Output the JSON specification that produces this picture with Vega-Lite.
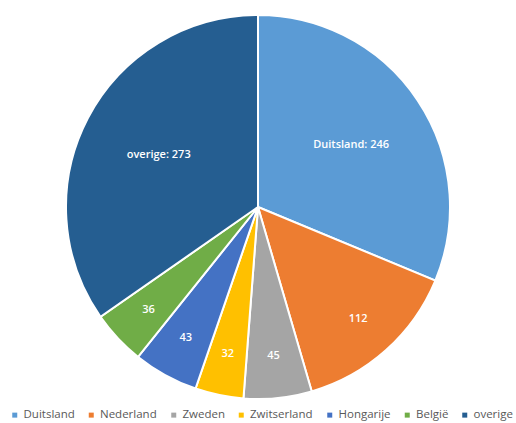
{
  "$schema": "https://vega.github.io/schema/vega-lite/v6.json",
  "width": 516,
  "height": 414,
  "padding": 0,
  "background": "white",
  "data": {"values": [
    {"land": "Duitsland", "aantal": 246, "volg": 1},
    {"land": "Nederland", "aantal": 112, "volg": 2},
    {"land": "Zweden", "aantal": 45, "volg": 3},
    {"land": "Zwitserland", "aantal": 32, "volg": 4},
    {"land": "Hongarije", "aantal": 43, "volg": 5},
    {"land": "België", "aantal": 36, "volg": 6},
    {"land": "overige", "aantal": 273, "volg": 7}
  ]},
  "transform": [
    {"calculate": "datum.aantal > 200 ? datum.land + ': ' + datum.aantal : ''", "as": "grootLabel"},
    {"calculate": "datum.aantal > 200 ? '' : '' + datum.aantal", "as": "kleinLabel"}
  ],
  "encoding": {
    "theta": {"field": "aantal", "type": "quantitative", "stack": true},
    "order": {"field": "volg", "type": "quantitative"}
  },
  "layer": [
    {
      "mark": {"type": "arc", "radius": 192, "stroke": "white", "strokeWidth": 2},
      "encoding": {
        "color": {
          "field": "land", "type": "nominal", "sort": null,
          "scale": {
            "domain": ["Duitsland", "Nederland", "Zweden", "Zwitserland", "Hongarije", "België", "overige"],
            "range": ["#5B9BD5", "#ED7D31", "#A5A5A5", "#FFC000", "#4472C4", "#70AD47", "#255E91"]
          },
          "legend": {
            "title": null, "orient": "none", "legendX": 9, "legendY": 409, "direction": "horizontal",
            "symbolType": "square", "symbolSize": 25, "symbolStrokeWidth": 0,
            "labelFont": "Open Sans", "labelFontSize": 11.5, "labelColor": "#595959",
            "labelOffset": 3, "columnPadding": 10.5, "padding": 0
          }
        }
      }
    },
    {
      "mark": {"type": "text", "radius": 112, "font": "Open Sans", "fontSize": 11, "fontWeight": 600, "fill": "white"},
      "encoding": {"text": {"field": "grootLabel"}}
    },
    {
      "mark": {"type": "text", "radius": 150, "font": "Open Sans", "fontSize": 11, "fontWeight": 600, "fill": "white"},
      "encoding": {"text": {"field": "kleinLabel"}}
    }
  ]
}
